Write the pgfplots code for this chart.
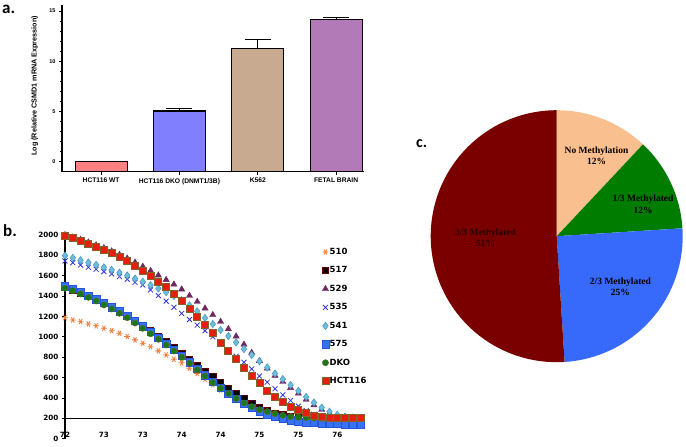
\documentclass[border=0pt]{standalone}
\usepackage{pgfplots}
\pgfplotsset{compat=1.18}
\usepackage{pgfplotstable}
\usepackage{fontspec}
\setmainfont{Liberation Sans}
\newfontfamily\dejavu{DejaVu Sans}
\newfontfamily\carlito{Carlito}
\newfontfamily\tnr{Liberation Serif}

\definecolor{cWT}{RGB}{255,128,128}
\definecolor{cDKO}{RGB}{128,128,255}
\definecolor{cK}{RGB}{200,170,145}
\definecolor{cFB}{RGB}{178,122,182}
\definecolor{c510}{RGB}{240,120,50}
\definecolor{c529}{RGB}{110,40,95}
\definecolor{c535}{RGB}{50,50,220}
\definecolor{c541}{RGB}{110,190,215}
\definecolor{c541e}{RGB}{70,150,200}
\definecolor{c575}{RGB}{55,115,240}
\definecolor{c575e}{RGB}{35,85,225}
\definecolor{cdko}{RGB}{25,120,25}
\definecolor{cdkoe}{RGB}{85,110,40}
\definecolor{chct}{RGB}{230,30,15}
\definecolor{chcte}{RGB}{130,100,40}
\definecolor{pNo}{RGB}{250,191,143}
\definecolor{pOne}{RGB}{0,125,0}
\definecolor{pTwo}{RGB}{55,105,250}
\definecolor{pThree}{RGB}{122,0,0}

\pgfplotstableread{
x     s510 s517 s529 s535 s541 s575 dko  hct
72.0  1188 1485 2000 1745 1797 1495 1477 1995
72.1  1165 1462 1976 1728 1775 1470 1453 1968
72.2  1149 1432 1954 1705 1752 1440 1421 1944
72.3  1126 1400 1928 1683 1730 1405 1388 1915
72.4  1108 1366 1900 1663 1706 1370 1352 1885
72.5  1084 1329 1872 1640 1682 1332 1313 1856
72.6  1060 1292 1840 1617 1657 1292 1274 1820
72.7  1035 1252 1806 1591 1630 1250 1231 1781
72.8  1003 1210 1770 1565 1602 1205 1188 1745
72.9   970 1162 1730 1535 1572 1155 1135 1696
73.0   937 1114 1690 1509 1541 1102 1084 1650
73.1   903 1062 1648 1460 1508 1048 1030 1598
73.2   862 1008 1604 1405 1474  992  976 1542
73.3   822  952 1560 1350 1438  935  920 1487
73.4   780  894 1515 1290 1400  875  861 1421
73.5   745  835 1467 1230 1360  812  799 1352
73.6   691  776 1404 1170 1310  750  740 1271
73.7   640  720 1345 1115 1250  686  675 1192
73.8   585  665 1280 1060 1185  622  614 1116
73.9   530  608 1215 1000 1126  558  552 1035
74.0   478  552 1149  940 1067  498  495  943
74.1   430  497 1077  875 1008  442  443  861
74.2   385  445 1005  810  946  390  394  780
74.3   345  395  925  750  880  343  350  697
74.4   310  350  845  685  822  302  314  616
74.5   282  308  765  615  760  268  285  544
74.6   260  278  690  555  700  240  266  471
74.7   242  252  620  490  640  215  246  412
74.8   228  235  560  430  585  195  230  363
74.9   217  222  500  375  527  180  216  314
75.0   210  214  445  320  470  168  210  282
75.1   205  208  385  275  410  160  206  249
75.2   202  204  330  240  355  154  203  226
75.3   200  202  285  215  305  150  200  216
75.4   200  200  250  205  265  147  200  206
75.5   200  200  225  200  235  145  200  204
75.6   200  200  210  200  218  143  200  202
75.7   200  200  203  200  208  142  200  200
75.8   200  200  200  200  203  141  200  200
}\meltdata

\begin{document}
\begin{tikzpicture}
\useasboundingbox (0pt,0pt) rectangle (686pt,-447pt);

% ---------------- panel a ----------------
\begin{axis}[
  at={(62pt,-171.7pt)}, anchor=south west,
  scale only axis, width=301.5pt, height=166.8pt,
  xmin=0.5, xmax=4.35, ymin=-1, ymax=15.6,
  y coord trafo/.code={\pgfmathparse{#1+1}},
  y coord inv trafo/.code={\pgfmathparse{#1-1}},
  axis x line=bottom, axis y line=left,
  axis line style={-, line width=1.2pt},
  ytick={0,5,10,15}, minor y tick num=4,
  xtick={1,2,3,4},
  xticklabels={HCT116 WT, HCT116 DKO (DNMT1/3B), K562, FETAL BRAIN},
  tick align=outside, major tick length=3pt, minor tick length=2pt,
  tick style={line width=0.8pt, black},
  /pgf/number format/assume math mode=true,
  yticklabel style={font=\bfseries\fontsize{5.5}{6}\selectfont},
  xticklabel style={font=\bfseries\fontsize{6.7}{7}\selectfont},
  ylabel={Log (Relative CSMD1 mRNA Expression)},
  ylabel style={font=\bfseries\fontsize{7.2}{8}\selectfont, at={(axis description cs:-0.09,0.514)}, anchor=center},
]
% error bars (upper whisker and cap)
\addplot[black, line width=1pt] coordinates {(2,5.04) (2,5.31)};
\addplot[black, line width=1pt] coordinates {(1.834,5.31) (2.166,5.31)};
\addplot[black, line width=1pt] coordinates {(3,11.24) (3,12.14)};
\addplot[black, line width=1pt] coordinates {(2.834,12.14) (3.166,12.14)};
\addplot[black, line width=1pt] coordinates {(4,14.17) (4,14.30)};
\addplot[black, line width=1pt] coordinates {(3.834,14.30) (4.166,14.30)};
% bars
\addplot[ybar, bar width=52pt, bar shift=0pt, fill=cWT, draw=black, line width=1.1pt] coordinates {(1,0)};
\addplot[ybar, bar width=52pt, bar shift=0pt, fill=cDKO, draw=black, line width=1.1pt] coordinates {(2,5.04)};
\addplot[ybar, bar width=52pt, bar shift=0pt, fill=cK, draw=black, line width=1.1pt] coordinates {(3,11.24)};
\addplot[ybar, bar width=52pt, bar shift=0pt, fill=cFB, draw=black, line width=1.1pt] coordinates {(4,14.17)};
\end{axis}

% ---------------- panel b ----------------
\begin{axis}[
  at={(65pt,-438.7pt)}, anchor=south west,
  scale only axis, width=295.6pt, height=206.8pt,
  xmin=72, xmax=75.8, ymin=0, ymax=2030,
  axis x line=bottom, axis y line=left,
  x axis line style={draw=none},
  y axis line style={-, line width=1.4pt},
  ytick={0,200,...,2000},
  xtick={72,72.5,73,73.5,74,74.5,75,75.5},
  xticklabels={72,73,73,74,74,75,75,76},
  x tick style={draw=none},
  y tick style={black, line width=0.8pt},
  tick align=outside, major tick length=3pt,
  /pgf/number format/assume math mode=true,
  /pgf/number format/1000 sep={},
  yticklabel style={font=\dejavu\bfseries\fontsize{7.2}{8}\selectfont},
  xticklabel style={font=\dejavu\bfseries\fontsize{7.2}{8}\selectfont, anchor=base, yshift=4.7pt},
  extra y ticks={200}, extra y tick labels={},
  extra y tick style={grid=major, major grid style={black, line width=1.4pt}},
  legend style={at={(0.868,0.925)}, anchor=north west, draw=none, fill=none,
    font=\dejavu\bfseries\fontsize{8.5}{9}\selectfont, row sep=9.7pt, inner sep=0pt,
    nodes={inner sep=0.5pt}},
  legend cell align=left,
  legend image code/.code={\path[draw=none,fill=none] (0pt,-3pt) rectangle (6pt,3pt); \draw[#1] plot coordinates {(3pt,0pt)};},
]
\addplot[only marks, mark=asterisk, mark size=3pt, mark options={rotate=90, draw=c510, line width=0.8pt}] table[x=x,y=s510] {\meltdata};
\addplot[only marks, mark=square*, mark size=3.1pt, mark options={fill=black, draw=black!60!red, line width=0.5pt}] table[x=x,y=s517] {\meltdata};
\addplot[only marks, mark=triangle*, mark size=3.6pt, mark options={fill=c529, draw=c529}] table[x=x,y=s529] {\meltdata};
\addplot[only marks, mark=x, mark size=3.5pt, mark options={draw=c535, line width=0.8pt}] table[x=x,y=s535] {\meltdata};
\addplot[only marks, mark=diamond*, mark size=3.7pt, mark options={fill=c541, draw=c541e, line width=0.5pt}] table[x=x,y=s541] {\meltdata};
\addplot[only marks, mark=square*, mark size=3.7pt, mark options={fill=c575, draw=c575e, line width=0.5pt}] table[x=x,y=s575] {\meltdata};
\addplot[only marks, mark=*, mark size=3.1pt, mark options={fill=cdko, draw=cdkoe, line width=0.5pt}] table[x=x,y=dko] {\meltdata};
\addplot[only marks, mark=square*, mark size=3.5pt, mark options={fill=chct, draw=chcte, line width=0.8pt}] table[x=x,y=hct] {\meltdata};
\legend{510,517,529,535,541,575,DKO,HCT116}
\end{axis}

% ---------------- panel c ----------------
\pgfmathsetmacro{\aA}{90-3.6*12}
\pgfmathsetmacro{\aB}{\aA-3.6*12}
\pgfmathsetmacro{\aC}{\aB-3.6*25}
\pgfmathsetmacro{\aD}{\aC-3.6*51}
\begin{axis}[
  at={(556.7pt,-236.2pt)}, anchor=center,
  scale only axis, width=252pt, height=252pt,
  xmin=-1, xmax=1, ymin=-1, ymax=1, hide axis, clip=false,
]
\addplot[fill=pNo, draw=none, domain=\aA:90, samples=40] ({cos(x)},{sin(x)}) -- (axis cs:0,0) -- cycle;
\addplot[fill=pOne, draw=none, domain=\aB:\aA, samples=40] ({cos(x)},{sin(x)}) -- (axis cs:0,0) -- cycle;
\addplot[fill=pTwo, draw=none, domain=\aC:\aB, samples=60] ({cos(x)},{sin(x)}) -- (axis cs:0,0) -- cycle;
\addplot[fill=pThree, draw=none, domain=\aD:\aC, samples=100] ({cos(x)},{sin(x)}) -- (axis cs:0,0) -- cycle;
\node[align=center, font=\tnr\bfseries\fontsize{9.5}{11.7}\selectfont] at (axis cs:0.316,0.639) {No Methylation\\12\%};
\node[align=center, font=\tnr\bfseries\fontsize{9.5}{11.7}\selectfont] at (axis cs:0.685,0.256) {1/3 Methylated\\12\%};
\node[align=center, font=\tnr\bfseries\fontsize{9.5}{11.7}\selectfont] at (axis cs:0.506,-0.401) {2/3 Methylated\\25\%};
\node[align=center, font=\tnr\bfseries\fontsize{9.5}{11.7}\selectfont, text=black!85!red] at (axis cs:-0.565,-0.013) {3/3 Methylated\\51\%};
\end{axis}

% panel letters
\node[anchor=base west, inner sep=0pt, font=\carlito\bfseries\fontsize{17}{17}\selectfont] at (2pt,-13pt) {a.};
\node[anchor=base west, inner sep=0pt, font=\carlito\bfseries\fontsize{17}{17}\selectfont] at (3pt,-236.7pt) {b.};
\node[anchor=base west, inner sep=0pt, font=\carlito\bfseries\fontsize{16}{16}\selectfont] at (416pt,-147.7pt) {c.};
\end{tikzpicture}
\end{document}
